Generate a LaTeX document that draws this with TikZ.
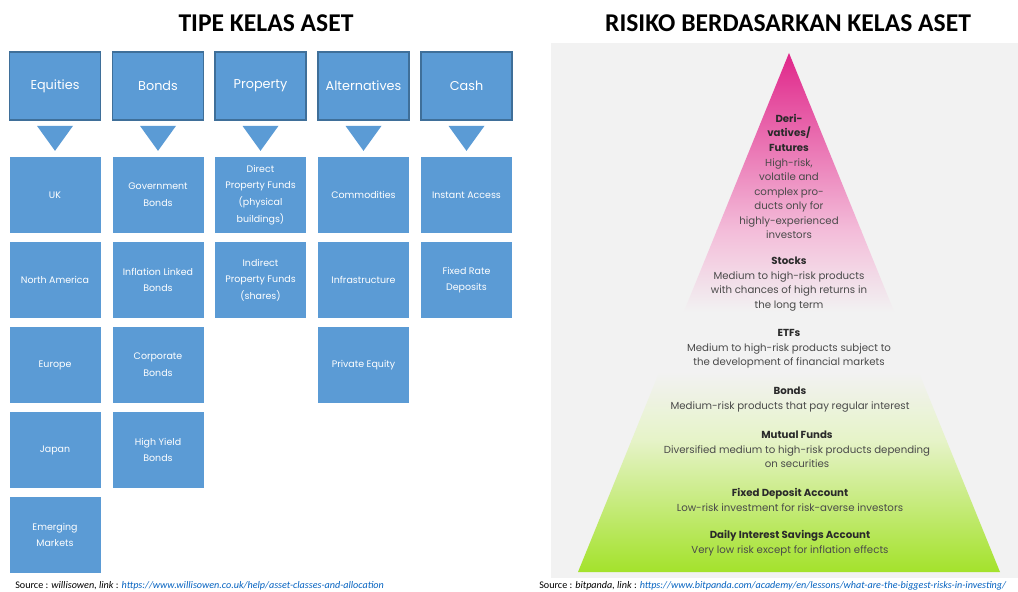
\documentclass[tikz,border=0pt]{standalone}
\usepackage{fontspec}
\setmainfont{Carlito}
\newfontfamily\boxfont{Poppins}
\usetikzlibrary{positioning, calc}
\definecolor{classblue}{HTML}{5B9BD5}
\definecolor{classedge}{HTML}{3F6F99}
\definecolor{panelgray}{HTML}{F2F2F2}
\definecolor{riskpink}{HTML}{E0268A}
\definecolor{softpink}{HTML}{F3BCD9}
\definecolor{safegreen}{HTML}{A3E22A}
\definecolor{palegreen}{HTML}{E6F3C8}
\definecolor{inkdark}{HTML}{2A2A2A}
\definecolor{inkgray}{HTML}{4A4A4A}
\definecolor{linkblue}{HTML}{0563C1}

\tikzset{
  classhead/.style={fill=classblue, draw=classedge, line width=1.3pt, minimum width=68.25pt, minimum height=51pt, inner sep=1pt, text=white, font=\boxfont\fontsize{9.6}{11}\selectfont},
  classitem/.style={fill=classblue, draw=none, minimum width=68.25pt, minimum height=57pt, inner sep=1pt, align=center, text=white, font=\boxfont\fontsize{7.1}{12.5}\selectfont},
  risktext/.style={align=center, text=inkgray, font=\boxfont\fontsize{7.65}{10.9}\selectfont},
  pagetitle/.style={font=\fontsize{19.2}{19.2}\selectfont\bfseries},
  sourceline/.style={anchor=west, inner xsep=0pt, font=\fontsize{7.6}{7.6}\selectfont}
}

\begin{document}
\begin{tikzpicture}[x=0.75pt, y=-0.75pt]
  % Page frame (1018 x 592 px)
  \useasboundingbox (0,0) rectangle (1018,592);
  \fill[white] (0,0) rectangle (1018,592);

  % ---------------- Left: asset class types ----------------
  \node[pagetitle] (lefttitle) at (266,23) {TIPE KELAS ASET};

  % Header boxes
  \node[classhead] (equities) at (55,86) {Equities};
  \node[classhead] (bonds) at (158,86) {Bonds};
  \node[classhead] (property) at (260.5,86) {Property};
  \node[classhead] (alternatives) at (363.5,86) {Alternatives};
  \node[classhead] (cash) at (466.5,86) {Cash};

  % Down triangles under each header
  \fill[classblue] ($(equities.south)+(-18,5)$) -- ($(equities.south)+(18,5)$) -- ($(equities.south)+(0,30)$) -- cycle;
  \fill[classblue] ($(bonds.south)+(-18,5)$) -- ($(bonds.south)+(18,5)$) -- ($(bonds.south)+(0,30)$) -- cycle;
  \fill[classblue] ($(property.south)+(-18,5)$) -- ($(property.south)+(18,5)$) -- ($(property.south)+(0,30)$) -- cycle;
  \fill[classblue] ($(alternatives.south)+(-18,5)$) -- ($(alternatives.south)+(18,5)$) -- ($(alternatives.south)+(0,30)$) -- cycle;
  \fill[classblue] ($(cash.south)+(-18,5)$) -- ($(cash.south)+(18,5)$) -- ($(cash.south)+(0,30)$) -- cycle;

  % Equities column
  \node[classitem] (uk) at (55,195) {UK};
  \node[classitem] (namerica) at (55,280) {North America};
  \node[classitem] (europe) at (55,365) {Europe};
  \node[classitem] (japan) at (55,450) {Japan};
  \node[classitem] (emerging) at (55,535) {Emerging\\Markets};

  % Bonds column
  \node[classitem] (govbonds) at (158,195) {Government\\Bonds};
  \node[classitem] (inflbonds) at (158,280) {Inflation Linked\\Bonds};
  \node[classitem] (corpbonds) at (158,365) {Corporate\\Bonds};
  \node[classitem] (hybonds) at (158,450) {High Yield\\Bonds};

  % Property column
  \node[classitem] (directprop) at (260.5,195) {Direct\\Property Funds\\(physical\\buildings)};
  \node[classitem] (indirectprop) at (260.5,280) {Indirect\\Property Funds\\(shares)};

  % Alternatives column
  \node[classitem] (commodities) at (363.5,195) {Commodities};
  \node[classitem] (infra) at (363.5,280) {Infrastructure};
  \node[classitem] (privequity) at (363.5,365) {Private Equity};

  % Cash column
  \node[classitem] (instant) at (466.5,195) {Instant Access};
  \node[classitem] (fixedrate) at (466.5,280) {Fixed Rate\\Deposits};

  \node[sourceline] (leftsource) at (15,587) {Source : \textit{willisowen, link} : \textcolor{linkblue}{\underline{\textit{https://www.willisowen.co.uk/help/asset-classes-and-allocation}}}};

  % ---------------- Right: risk pyramid ----------------
  \node[pagetitle] (righttitle) at (788,23) {RISIKO BERDASARKAN KELAS ASET};

  % Panel background
  \fill[panelgray] (551,43) rectangle (1018,578);

  % Pyramid with pink-to-green shading
  \coordinate (apex) at (789,53);
  \coordinate (baseleft) at (578,572);
  \coordinate (baseright) at (1000,572);
  \begin{scope}
    \clip (apex) -- (baseright) -- (baseleft) -- cycle;
    \shade[top color=riskpink, bottom color=softpink] (570,53) rectangle (1010,230);
    \shade[top color=softpink, bottom color=panelgray] (570,230) rectangle (1010,312);
    \fill[panelgray] (570,312) rectangle (1010,372);
    \shade[top color=panelgray, bottom color=palegreen] (570,372) rectangle (1010,440);
    \shade[top color=palegreen, bottom color=safegreen] (570,440) rectangle (1010,573);
  \end{scope}

  % Risk levels, top to bottom
  \node[risktext] (derivatives) at (789,176.5) {\textcolor{inkdark}{\bfseries Deri-}\\\textcolor{inkdark}{\bfseries vatives/}\\\textcolor{inkdark}{\bfseries Futures}\\High-risk,\\volatile and\\complex pro-\\ducts only for\\highly-experienced\\investors};
  \node[risktext] (stocks) at (789,284) {\textcolor{inkdark}{\bfseries Stocks}\\Medium to high-risk products\\with chances of high returns in\\the long term};
  \node[risktext] (etfs) at (789,349) {\textcolor{inkdark}{\bfseries ETFs}\\Medium to high-risk products subject to\\the development of financial markets};
  \node[risktext] (riskbonds) at (790,399.5) {\textcolor{inkdark}{\bfseries Bonds}\\Medium-risk products that pay regular interest};
  \node[risktext] (mutual) at (797,449.5) {\textcolor{inkdark}{\bfseries Mutual Funds}\\Diversified medium to high-risk products depending\\on securities};
  \node[risktext] (fixeddep) at (790,500) {\textcolor{inkdark}{\bfseries Fixed Deposit Account}\\Low-risk investment for risk-averse investors};
  \node[risktext] (savings) at (790,543) {\textcolor{inkdark}{\bfseries Daily Interest Savings Account}\\Very low risk except for inflation effects};

  \node[sourceline] (rightsource) at (539,587) {Source : \textit{bitpanda, link} : \textcolor{linkblue}{\underline{\textit{https://www.bitpanda.com/academy/en/lessons/what-are-the-biggest-risks-in-investing/}}}};
\end{tikzpicture}
\end{document}
